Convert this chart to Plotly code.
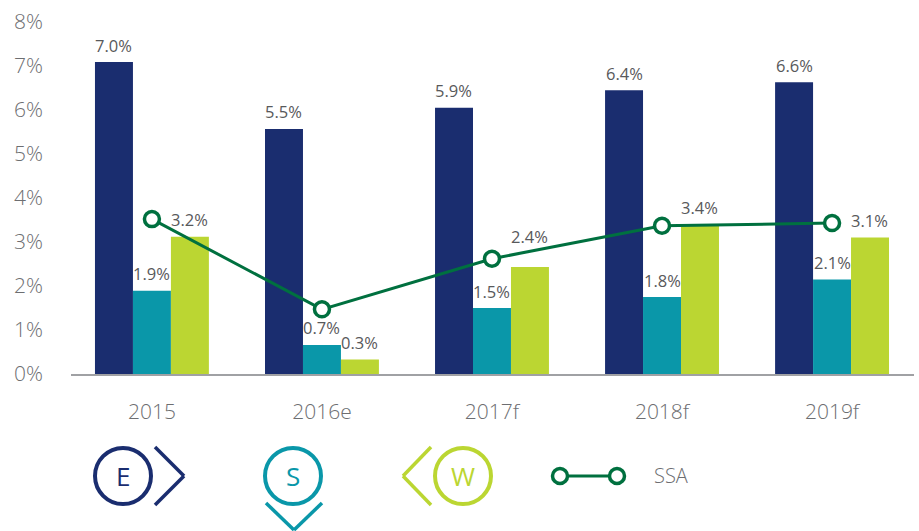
import plotly.graph_objects as go

categories = ["2015", "2016e", "2017f", "2018f", "2019f"]
e_values = [7.09, 5.57, 6.05, 6.45, 6.63]
s_values = [1.89, 0.66, 1.50, 1.75, 2.15]
w_values = [3.12, 0.33, 2.43, 3.40, 3.10]
ssa_values = [3.52, 1.47, 2.62, 3.37, 3.43]
e_labels = ["7.0%", "5.5%", "5.9%", "6.4%", "6.6%"]
s_labels = ["1.9%", "0.7%", "1.5%", "1.8%", "2.1%"]
w_labels = ["3.2%", "0.3%", "2.4%", "3.4%", "3.1%"]
y_ticks = [0, 1, 2, 3, 4, 5, 6, 7, 8]
y_tick_labels = ["0%", "1%", "2%", "3%", "4%", "5%", "6%", "7%", "8%"]

NAVY, TEAL, LIME, GREEN = "#1a2d6f", "#0a97a9", "#bbd632", "#00703f"
GREY, LABEL = "#6d6e71", "#58595b"
FONT = "Open Sans"
L, R, T, B = 71, 914, 22, 374


def px(x):
    return (x - L) / (R - L)


def py(y):
    return (B - y) / (B - T)


fig = go.Figure()
for name, vals, col in [("E", e_values, NAVY), ("S", s_values, TEAL), ("W", w_values, LIME)]:
    fig.add_bar(x=categories, y=vals, name=name, marker=dict(color=col, line_width=0))
fig.add_scatter(
    x=categories, y=ssa_values, name="SSA", mode="lines+markers", cliponaxis=False,
    line=dict(color=GREEN, width=3),
    marker=dict(size=15, color="white", line=dict(color=GREEN, width=3.5)),
)

annotations = []
for labels, vals, shift in [(e_labels, e_values, -38), (s_labels, s_values, 0), (w_labels, w_values, 37.5)]:
    for i, (lab, v) in enumerate(zip(labels, vals)):
        lift = 17 if lab != "2.4%" else 31
        annotations.append(dict(
            x=i, y=v, xref="x", yref="y", text=lab, showarrow=False,
            xshift=shift, yshift=lift, yanchor="middle",
            font=dict(family=FONT, size=16.5, color=LABEL),
        ))

shapes = []


def circle(cx, cy, r, col, w=4, fill=None):
    shapes.append(dict(
        type="circle", xref="paper", yref="paper", x0=px(cx - r), x1=px(cx + r),
        y0=py(cy + r), y1=py(cy - r), line=dict(color=col, width=w),
        fillcolor=fill or "rgba(0,0,0,0)",
    ))


def segment(x0, y0, x1, y1, col, w=3.5):
    shapes.append(dict(
        type="line", xref="paper", yref="paper", x0=px(x0), y0=py(y0), x1=px(x1), y1=py(y1),
        line=dict(color=col, width=w),
    ))


def legend_text(cx, cy, text, col, size, anchor="center", weight=500):
    annotations.append(dict(
        x=px(cx), y=py(cy), xref="paper", yref="paper", text=text, showarrow=False,
        xanchor=anchor, yanchor="middle",
        font=dict(family=FONT, size=size, color=col, weight=weight),
    ))


# E icon
circle(123, 476, 28, NAVY)
segment(155, 447, 184, 476, NAVY)
segment(184, 476, 155, 505, NAVY)
legend_text(123, 476, "E", NAVY, 26, weight=500)
# S icon
circle(293, 476, 28, TEAL)
segment(266, 503, 294, 530, TEAL)
segment(294, 530, 322, 503, TEAL)
legend_text(293, 476, "S", TEAL, 26, weight=500)
# W icon
circle(463, 476, 28, LIME)
segment(431, 447, 403, 476, LIME)
segment(403, 476, 431, 505, LIME)
legend_text(463, 476, "W", LIME, 26, weight=400)
# SSA key
segment(560, 476, 617, 476, GREEN, 3)
circle(560, 476, 7.5, GREEN, 3.5, "white")
circle(617, 476, 7.5, GREEN, 3.5, "white")
legend_text(652, 475, "SSA", GREY, 20, "left", 300)

fig.update_layout(
    width=919, height=531, autosize=False, showlegend=False,
    margin=dict(l=L, r=919 - R, t=T, b=531 - B),
    paper_bgcolor="white", plot_bgcolor="white",
    barmode="group", bargap=0.33, bargroupgap=0,
    annotations=annotations, shapes=shapes,
    font=dict(family=FONT, color=GREY),
)
fig.update_xaxes(
    type="category", range=[-0.476, 4.482], showgrid=False, showline=True,
    linecolor="#a0a1a4", linewidth=2, ticks="", ticklabelstandoff=18,
    tickfont=dict(family=FONT, size=21, color=GREY, weight=300),
)
fig.update_yaxes(
    range=[0, 8], tickvals=y_ticks, ticktext=y_tick_labels, showgrid=False,
    zeroline=False, showline=False, ticks="", ticklabelstandoff=27,
    tickfont=dict(family=FONT, size=21, color=GREY, weight=300),
)
fig.write_html("out.html", config=dict(displayModeBar=False), post_script="document.body.style.margin='0';")
